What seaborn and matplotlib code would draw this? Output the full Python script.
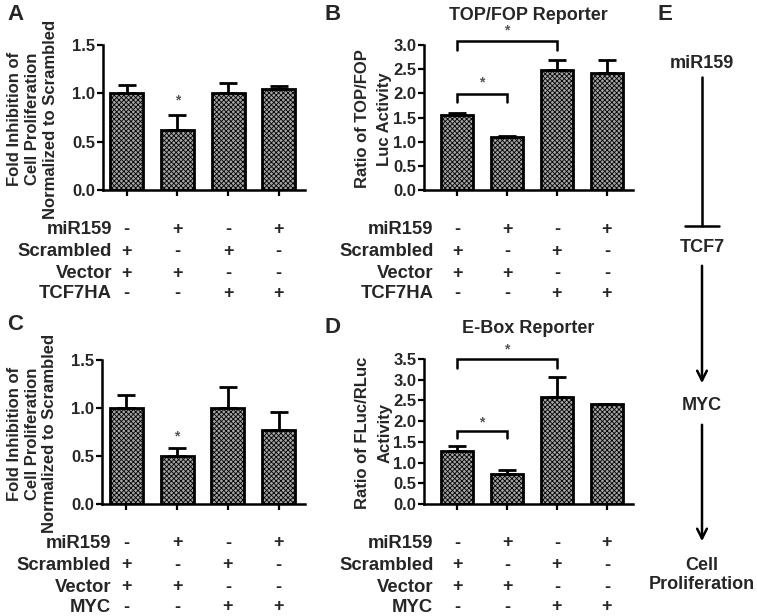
import numpy as np
import pandas as pd
import seaborn as sns
import matplotlib.pyplot as plt

# ---- data ----
conds = ['c1', 'c2', 'c3', 'c4']

prolif_tcf7 = [1.00, 0.62, 1.00, 1.05]
prolif_tcf7_err = [0.09, 0.16, 0.11, 0.03]

topfop = [1.56, 1.10, 2.48, 2.42]
topfop_err = [0.03, 0.02, 0.22, 0.27]

prolif_myc = [1.00, 0.50, 1.00, 0.77]
prolif_myc_err = [0.14, 0.08, 0.22, 0.19]

ebox = [1.29, 0.72, 2.59, 2.42]
ebox_err = [0.11, 0.10, 0.48, 0.0]

row_names_tcf7 = ['miR159', 'Scrambled', 'Vector', 'TCF7HA']
row_names_myc = ['miR159', 'Scrambled', 'Vector', 'MYC']
row_signs = [['-', '+', '-', '+'],
             ['+', '-', '+', '-'],
             ['+', '+', '-', '-'],
             ['-', '-', '+', '+']]

prolif_label = ['Fold Inhibition of', 'Cell Proliferation', 'Normalized to Scrambled']
topfop_label = ['Ratio of TOP/FOP', 'Luc Activity']
ebox_label = ['Ratio of FLuc/RLuc', 'Activity']

pathway = ['miR159', 'TCF7', 'MYC', 'Cell\nProliferation']

sns.set_style('ticks')
plt.rcParams['font.family'] = ['Liberation Sans', 'DejaVu Sans']
plt.rcParams['font.weight'] = 'bold'
plt.rcParams['hatch.color'] = '#3a3a3a'
plt.rcParams['hatch.linewidth'] = 0.6

W, H = 757, 616
fig = plt.figure(figsize=(W / 100, H / 100), dpi=100)


def px_axes(x0, x1, ytop, ybot):
    return fig.add_axes([x0 / W, 1 - ybot / H, (x1 - x0) / W, (ybot - ytop) / H])


def bar_panel(ax, vals, errs, ymax, ystep, xlim, ylabel, lab_xs, rows):
    df = pd.DataFrame({'cond': conds, 'val': vals})
    sns.barplot(data=df, x='cond', y='val', ax=ax, color='#a4a4a4', width=0.65,
                edgecolor='black', linewidth=2.0, saturation=1)
    for p in ax.patches:
        p.set_hatch('xxxxxxx')
    x = np.arange(len(vals))
    ax.errorbar(x, vals, yerr=[np.zeros(len(vals)), errs], fmt='none', ecolor='black',
                elinewidth=2.0, capsize=6.5, capthick=2.0, zorder=1)
    ax.set_ylim(0, ymax)
    ax.set_xlim(*xlim)
    ticks = np.arange(0, ymax + 1e-9, ystep)
    ax.set_yticks(ticks)
    ax.set_yticklabels([f'{v:.1f}' for v in ticks], fontsize=12, fontweight='bold')
    ax.set_xticks(x)
    ax.set_xticklabels([])
    ax.tick_params(axis='both', length=4, width=1.6, color='black', pad=1.5)
    for s in ['top', 'right']:
        ax.spines[s].set_visible(False)
    for s in ['left', 'bottom']:
        ax.spines[s].set_linewidth(1.8)
        ax.spines[s].set_color('black')
    ax.set_xlabel('')
    ax.set_ylabel('')
    # y label, one rotated line at a time
    for line, lx in zip(ylabel, lab_xs):
        ax.text(lx, 0.49, line, transform=ax.transAxes, rotation=90, ha='center',
                va='center', fontsize=12, fontweight='bold')
    # condition table below the axis
    offs = [-39, -61, -83, -103]
    for r, (name, signs) in enumerate(zip(rows, row_signs)):
        ax.annotate(name, xy=(0.045, 0), xycoords='axes fraction',
                    xytext=(0, offs[r] * 0.72), textcoords='offset points',
                    ha='right', va='center', fontsize=13.3, fontweight='bold')
        for i, s in enumerate(signs):
            ax.annotate(s, xy=(i, 0), xycoords=('data', 'axes fraction'),
                        xytext=(0, offs[r] * 0.72), textcoords='offset points',
                        ha='center', va='center', fontsize=13, fontweight='bold')


def star(ax, x, y):
    ax.text(x, y, '*', ha='center', va='center', fontsize=10, color='#555555',
            fontweight='bold', clip_on=False)


def bracket(ax, x0, x1, y, leg):
    ax.plot([x0, x0, x1, x1], [y - leg, y, y, y - leg], color='black', lw=1.8,
            clip_on=False, solid_joinstyle='miter')


# A
axA = px_axes(103, 305, 45, 190)
bar_panel(axA, prolif_tcf7, prolif_tcf7_err, 1.5, 0.5, (-0.47, 3.52),
          prolif_label, [-0.436, -0.347, -0.262], row_names_tcf7)
star(axA, 1, prolif_tcf7[1] + prolif_tcf7_err[1] + 0.15)

# B
axB = px_axes(424, 633, 45, 190)
bar_panel(axB, topfop, topfop_err, 3.0, 0.5, (-0.66, 3.52),
          topfop_label, [-0.292, -0.19], row_names_tcf7)
bracket(axB, 0, 1, 1.99, 0.17)
star(axB, 0.5, 2.22)
bracket(axB, 0, 2, 3.08, 0.18)
star(axB, 1.0, 3.30)
axB.set_title('TOP/FOP Reporter', fontsize=13, fontweight='bold', pad=18, x=0.5)

# C
axC = px_axes(102, 305, 360, 504)
bar_panel(axC, prolif_myc, prolif_myc_err, 1.5, 0.5, (-0.48, 3.52),
          prolif_label, [-0.43, -0.342, -0.258], row_names_myc)
star(axC, 1, prolif_myc[1] + prolif_myc_err[1] + 0.12)

# D
axD = px_axes(424, 633, 359, 504)
bar_panel(axD, ebox, ebox_err, 3.5, 0.5, (-0.66, 3.52),
          ebox_label, [-0.292, -0.186], row_names_myc)
bracket(axD, 0, 1, 1.77, 0.17)
star(axD, 0.5, 1.98)
bracket(axD, 0, 2, 3.50, 0.21)
star(axD, 1.0, 3.72)
axD.set_title('E-Box Reporter', fontsize=13, fontweight='bold', pad=19, x=0.5)

# panel letters
for lab, (lx, ly) in zip('ABCDE', [(15, 15), (333, 15), (15, 325), (333, 327), (665, 15)]):
    fig.text(lx / W, 1 - ly / H, lab, ha='center', va='center', fontsize=16,
             fontweight='bold')

# E: pathway diagram
axE = fig.add_axes([0, 0, 1, 1])
axE.set_xlim(0, W)
axE.set_ylim(H, 0)
axE.axis('off')
node_y = [63, 248, 406, 575]
for name, ny in zip(pathway, node_y):
    axE.text(702, ny, name, ha='center', va='center', fontsize=13,
             fontweight='bold', linespacing=1.2)
# inhibition
axE.plot([702, 702], [77, 226], color='black', lw=1.8)
axE.plot([685, 719], [226, 226], color='black', lw=1.8)
# activations
for y0, y1 in [(263, 386), (422, 544)]:
    axE.annotate('', xy=(702, y1), xytext=(702, y0),
                 arrowprops=dict(arrowstyle='->,head_length=0.7,head_width=0.35',
                                 color='black', lw=1.8))

fig.savefig('out.png', dpi=100)
